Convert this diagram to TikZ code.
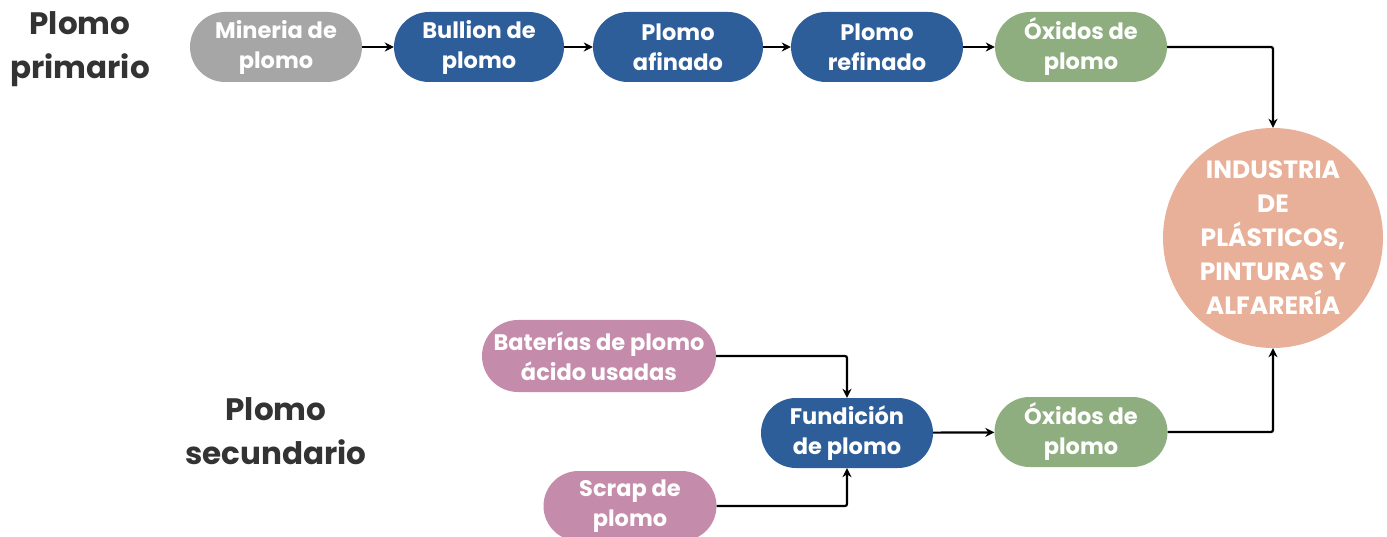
\documentclass[tikz,border=0pt]{standalone}
\usepackage{fontspec}
\setmainfont{Poppins}[BoldFont={* Bold}]
\usetikzlibrary{arrows.meta}
\definecolor{cgray}{HTML}{A6A6A6}
\definecolor{cblue}{HTML}{2E5E99}
\definecolor{cgreen}{HTML}{8FAE80}
\definecolor{cpink}{HTML}{C48BAB}
\definecolor{csalmon}{HTML}{E8B098}
\definecolor{ctext}{HTML}{333333}
\tikzset{
  pill/.style={rectangle, rounded corners=35pt, minimum width=172pt, minimum height=70pt,
    inner sep=0pt, align=center, text=white, font=\bfseries\fontsize{22.5}{30}\selectfont},
  conn/.style={line width=2.2pt, -{Stealth[length=9pt,width=9pt]}, rounded corners=2pt},
  side/.style={align=center, text=ctext, font=\bfseries\fontsize{31}{44}\selectfont}
}
\begin{document}
\begin{tikzpicture}[x=1pt,y=-1pt]
\useasboundingbox (0,0) rectangle (1387,537);
\clip (0,0) rectangle (1387,537);
\node[side] (lp) at (80,49) {Plomo\\primario};
\node[side] (ls) at (276,431) {Plomo\\secundario};
\node[pill, fill=cgray] (min) at (276,47) {Mineria de\\plomo};
\node[pill, fill=cblue, minimum width=170pt] (bul) at (479,47) {Bullion de\\plomo};
\node[pill, fill=cblue, minimum width=170pt] (afi) at (678,47) {Plomo\\afinado};
\node[pill, fill=cblue] (ref) at (877,47) {Plomo\\refinado};
\node[pill, fill=cgreen] (ox1) at (1081,47) {Óxidos de\\plomo};
\node[circle, fill=csalmon, minimum size=220pt, inner sep=0pt, align=center, text=white,
  font=\bfseries\fontsize{25}{34}\selectfont] (ind) at (1273,238) {INDUSTRIA\\DE\\PLÁSTICOS,\\PINTURAS Y\\ALFARERÍA};
\node[pill, fill=cpink, minimum width=234pt, minimum height=72pt, rounded corners=36pt] (bat) at (599,356) {Baterías de plomo\\ácido usadas};
\node[pill, fill=cblue] (fun) at (847,433) {Fundición\\de plomo};
\node[pill, fill=cgreen, minimum width=173pt] (ox2) at (1081,432) {Óxidos de\\plomo};
\node[pill, fill=cpink, minimum width=173pt] (scr) at (630,506) {Scrap de\\plomo};
\draw[conn] (min) -- (bul);
\draw[conn] (bul) -- (afi);
\draw[conn] (afi) -- (ref);
\draw[conn] (ref) -- (ox1);
\draw[conn] (ox1.east) -| (ind.north);
\draw[conn] (bat.east) -| (fun.north);
\draw[conn] (scr.east) -| (fun.south);
\draw[conn] (fun) -- (ox2);
\draw[conn] (ox2.east) -| (ind.south);
\end{tikzpicture}
\end{document}
